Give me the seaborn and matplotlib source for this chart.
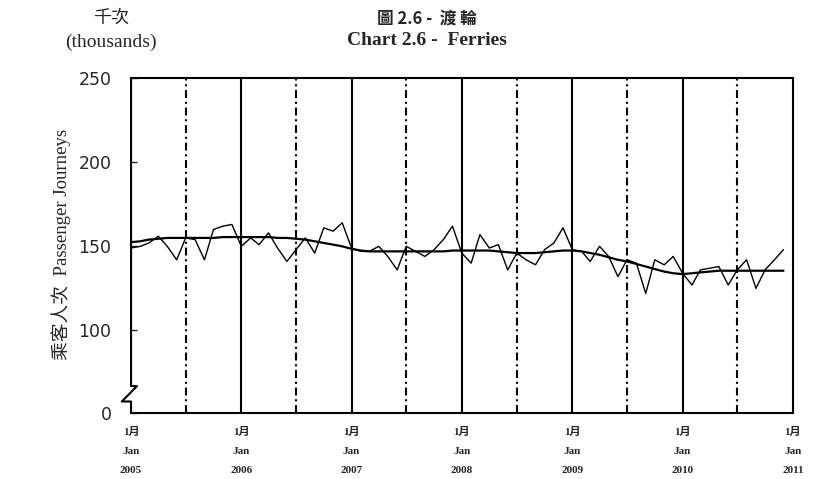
import pandas as pd
import matplotlib
matplotlib.use('Agg')
import matplotlib.pyplot as plt
import seaborn as sns

# monthly passenger journeys (thousands), Jan 2005 - Dec 2010
months = pd.date_range('2005-01-01', periods=72, freq='MS')
journeys = [149, 150, 152, 156, 150, 142, 155, 154, 142, 160, 162, 163,
            150, 155, 151, 158, 149, 141, 148, 155, 146, 161, 159, 164,
            149, 147, 147, 150, 144, 136, 150, 147, 144, 148, 154, 162,
            146, 140, 157, 149, 151, 136, 146, 142, 139, 148, 152, 161,
            148, 147, 141, 150, 144, 132, 142, 140, 122, 142, 139, 144,
            134, 127, 136, 137, 138, 127, 136, 142, 125, 136, 142, 148]
trend = [152.5, 153, 154, 154.5, 155, 155, 155, 155, 155, 155, 155.5, 155.5,
         155.5, 155.5, 155.5, 155.5, 155, 155, 154.5, 154, 153, 152, 151, 150,
         148.5, 147.5, 147, 147, 147, 147, 147, 147, 147, 147, 147, 147.5,
         147.5, 147.5, 147.5, 147.5, 147, 146.5, 146, 146, 146, 146.5, 147, 147.5,
         147.5, 147, 146, 145, 143.5, 142, 141, 139.5, 138, 136.5, 135, 134,
         133.5, 134, 134.5, 135, 135.5, 135.5, 135.5, 135.5, 135.5, 135.5, 135.5, 135.5]

year_ticks = pd.date_range('2005-01-01', '2011-01-01', freq='YS')
year_labels = ['1月\nJan\n' + str(d.year) for d in year_ticks]
mid_years = pd.date_range('2005-07-01', periods=6, freq='12MS')
y_ticks = [51, 100, 150, 200, 250]
y_labels = ['0', '100', '150', '200', '250']

df = pd.DataFrame({'month': months, 'journeys': journeys, 'trend': trend})

sns.set_style('white')
serif = ['Liberation Serif', 'Noto Sans CJK TC']
plt.rcParams['font.family'] = serif

fig = plt.figure(figsize=(8.14, 4.79), dpi=100)
ax = fig.add_axes([0.161, 0.138, 0.813, 0.699])

for d in year_ticks[1:-1]:
    ax.axvline(d, color='black', lw=1.5, zorder=1)
for d in mid_years:
    ax.axvline(d, color='black', lw=1.5, ls=(0, (3.8, 1.8, 1, 1.8)), zorder=1)

sns.lineplot(data=df, x='month', y='journeys', color='black', lw=1, ax=ax, zorder=3)
sns.lineplot(data=df, x='month', y='trend', color='black', lw=1.6, ax=ax, zorder=3)

ax.set_xlim(year_ticks[0], year_ticks[-1])
ax.set_ylim(51, 250)
ax.set_xlabel('')
ax.set_ylabel('')

ax.set_xticks(year_ticks)
ax.set_xticklabels(year_labels, fontsize=8, fontweight='bold', linespacing=2.45)
ax.tick_params(axis='x', length=0, pad=10)
ax.set_yticks(y_ticks)
ax.set_yticklabels(y_labels, fontsize=12.5, family=['DejaVu Sans'])
ax.tick_params(axis='y', direction='in', length=4, width=1, pad=14, left=True)

for side in ['top', 'right', 'bottom']:
    ax.spines[side].set_color('black')
    ax.spines[side].set_linewidth(1.5)
ax.spines['left'].set_visible(False)
# left border with the axis-break zigzag
ax.plot([0, 0, 0.009, -0.014, 0, 0], [1, 0.08, 0.08, 0.034, 0.034, 0],
        transform=ax.transAxes, color='black', lw=1.5, clip_on=False)

fig.text(0.525, 0.962, '圖 2.6 -  渡 輪', ha='center', va='center',
         fontsize=12, fontweight='bold', family=['Noto Sans CJK TC'])
fig.text(0.525, 0.915, 'Chart 2.6 -  Ferries', ha='center', va='center',
         fontsize=14, fontweight='bold')
fig.text(0.136, 0.962, '千次', ha='center', va='center', fontsize=13,
         family=['Noto Sans CJK TC'])
fig.text(0.136, 0.912, '(thousands)', ha='center', va='center', fontsize=14)
fig.text(0.075, 0.489, '乘客人次  Passenger Journeys', ha='center', va='center',
         rotation=90, fontsize=13.5)

fig.savefig('out.png', dpi=100, facecolor='white')
